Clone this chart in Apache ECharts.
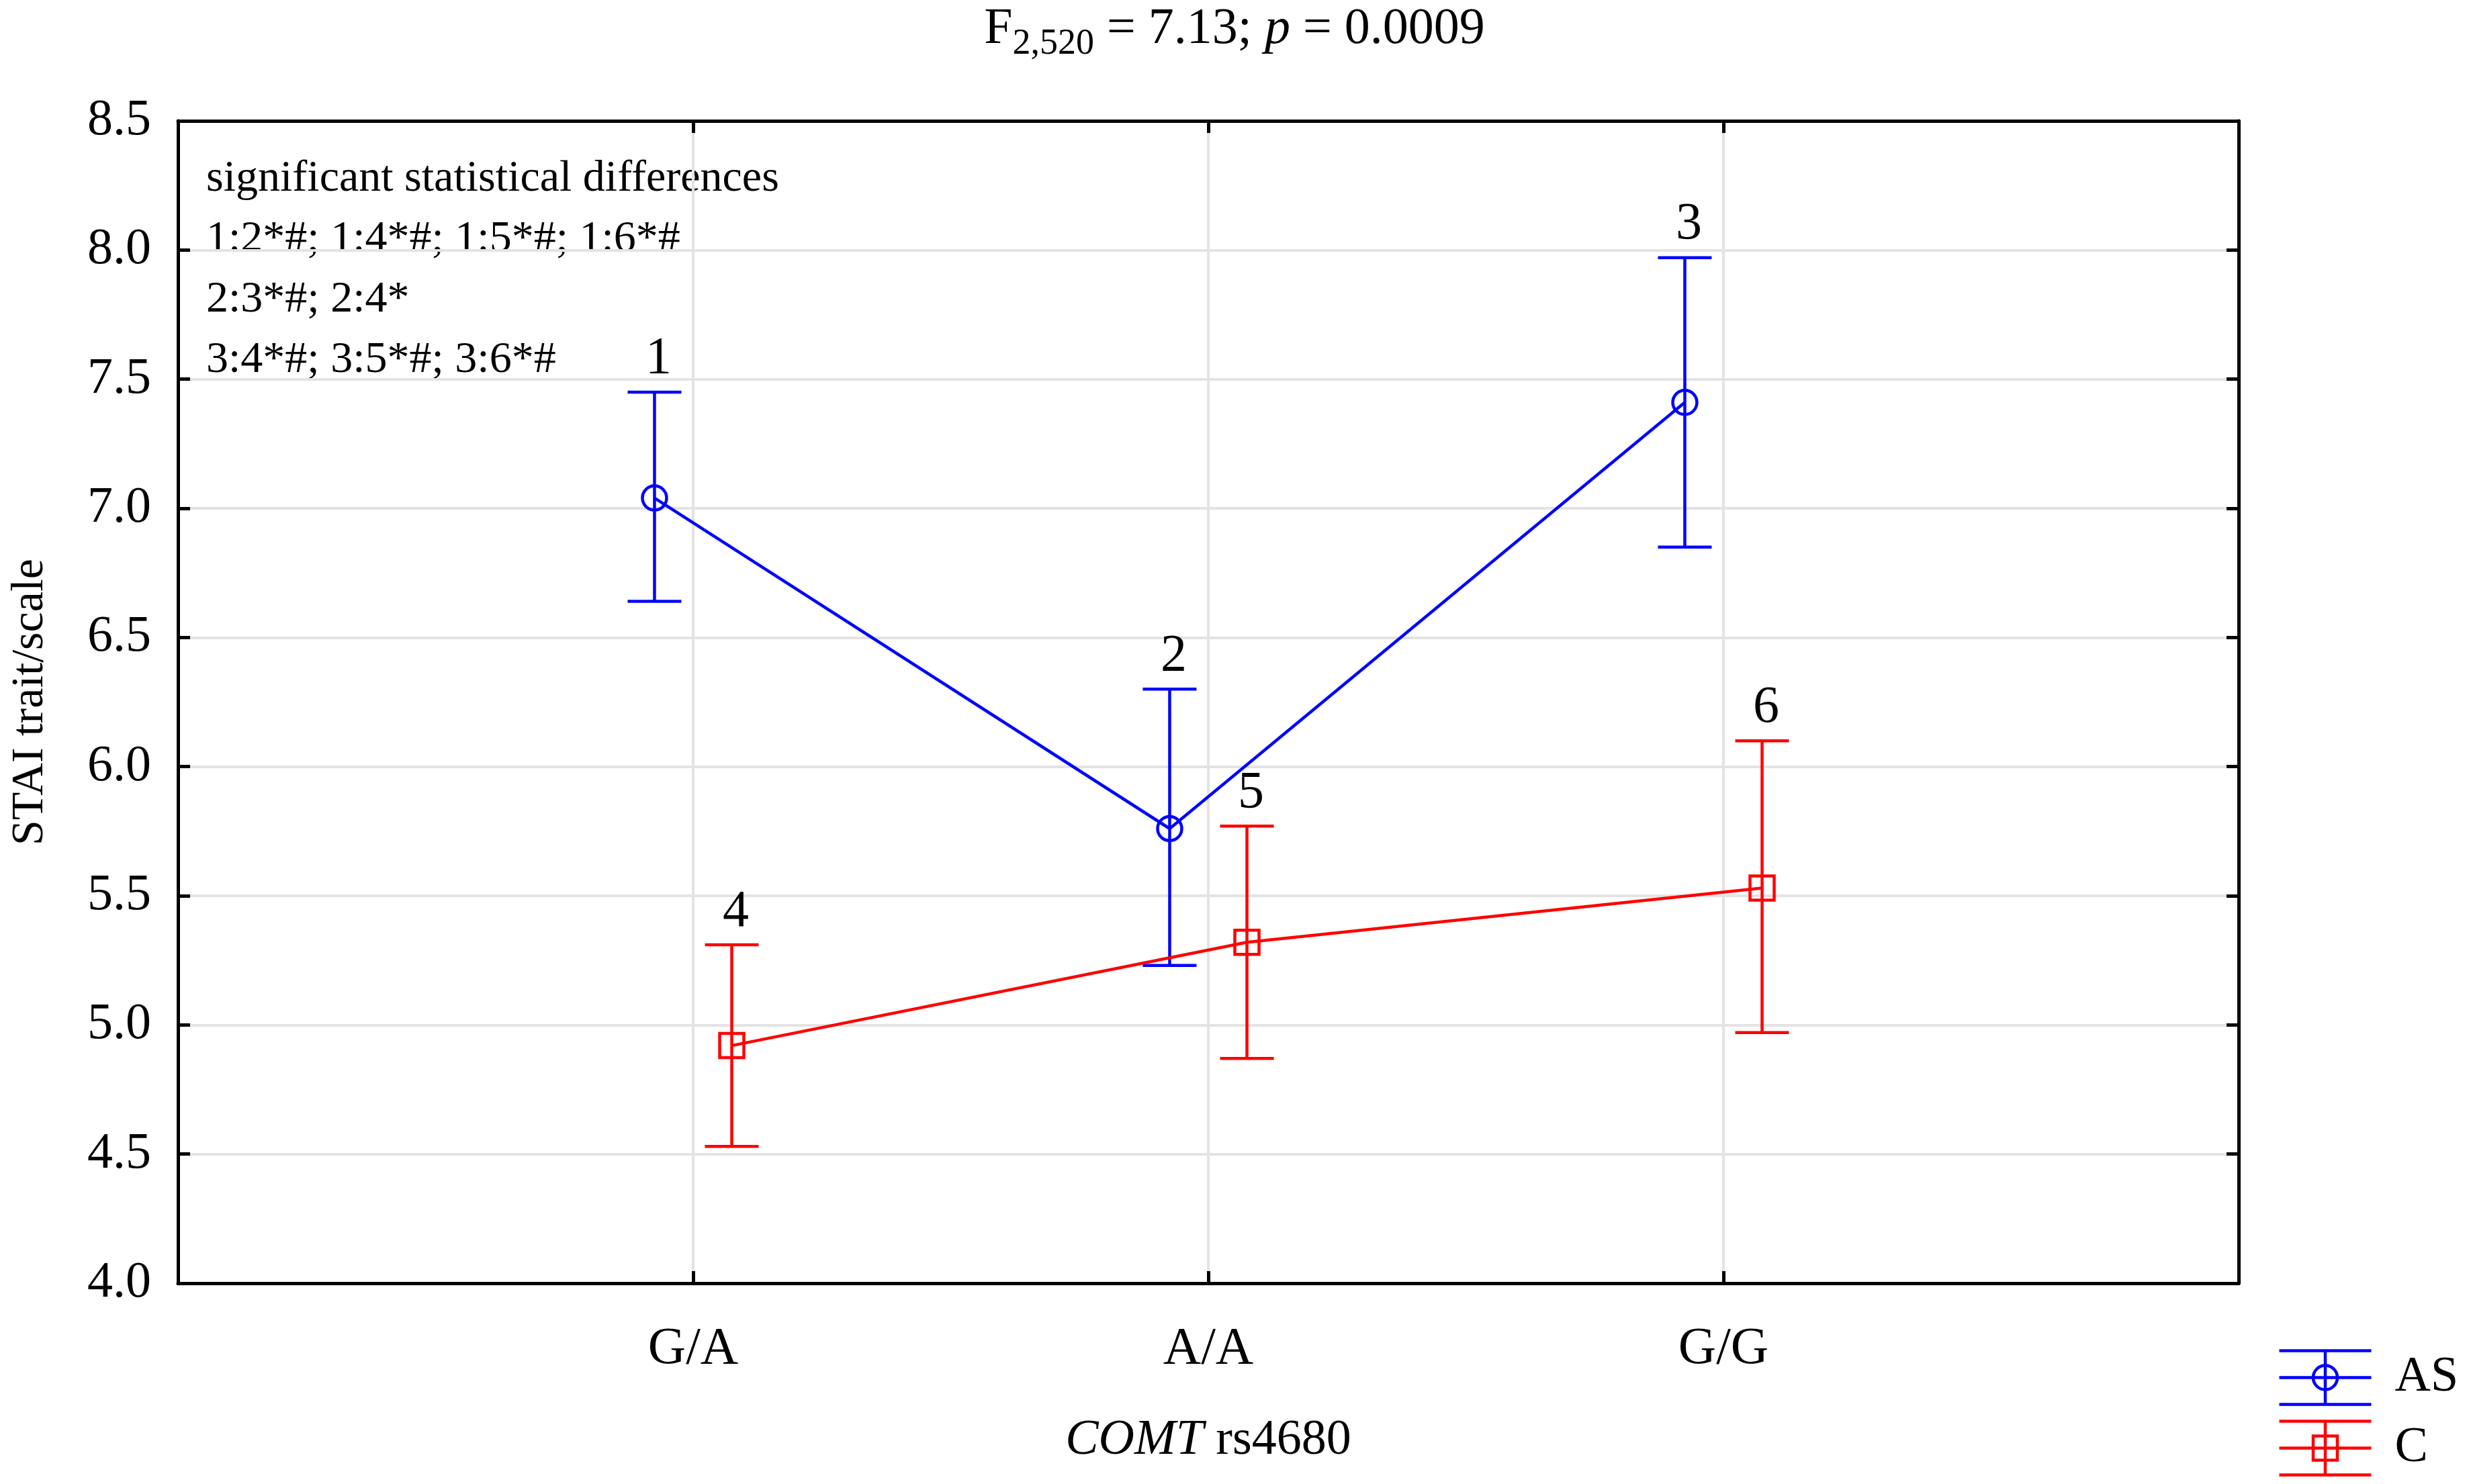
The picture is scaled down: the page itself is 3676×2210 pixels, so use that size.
<!DOCTYPE html>
<html lang="en">
<head>
    <meta charset="UTF-8">
    <title>STAI trait by COMT rs4680</title>
    <style>
        html, body { margin: 0; padding: 0; background: #fff; }
        #main { width: 3676px; height: 2210px; }
    </style>
</head>
<body>
<div id="main"></div>
<script src="https://cdn.jsdelivr.net/npm/echarts@6/dist/echarts.min.js"></script>
<script>
    // genotype categories on the x axis
    var genotypes = ['G/A', 'A/A', 'G/G'];
    // AS group: means and error bar limits
    var asMean = [7.04, 5.76, 7.41];
    var asLow = [6.64, 5.23, 6.85];
    var asHigh = [7.45, 6.30, 7.97];
    var asNums = ['1', '2', '3'];
    // C group
    var cMean = [4.92, 5.32, 5.53];
    var cLow = [4.53, 4.87, 4.97];
    var cHigh = [5.31, 5.77, 6.10];
    var cNums = ['4', '5', '6'];
    var yTicks = [4.0, 4.5, 5.0, 5.5, 6.0, 6.5, 7.0, 7.5, 8.0, 8.5];

    var FONT = 'Liberation Serif';
    var BLUE = '#0000ff';
    var RED = '#ff0000';
    var shift = 0.075;   // small horizontal dodge of the two groups

    function points(mean, dx) {
        return mean.map(function (v, i) { return [i + 1 + dx, v]; });
    }
    function bars(low, high, nums, dx) {
        return low.map(function (v, i) { return [i + 1 + dx, v, high[i], nums[i]]; });
    }

    function errorItem(color) {
        return function (params, api) {
            var x = api.value(0);
            var lo = api.coord([x, api.value(1)]);
            var hi = api.coord([x, api.value(2)]);
            var w = 40;
            var st = { stroke: color, lineWidth: 4.5 };
            return {
                type: 'group',
                children: [
                    { type: 'line', shape: { x1: lo[0], y1: lo[1], x2: hi[0], y2: hi[1] }, style: st },
                    { type: 'line', shape: { x1: hi[0] - w, y1: hi[1], x2: hi[0] + w, y2: hi[1] }, style: st },
                    { type: 'line', shape: { x1: lo[0] - w, y1: lo[1], x2: lo[0] + w, y2: lo[1] }, style: st },
                    {
                        type: 'text',
                        style: {
                            x: hi[0] + 6, y: hi[1] - 10,
                            text: api.value(3) + '',
                            fill: '#000',
                            font: '78px "' + FONT + '"',
                            align: 'center', verticalAlign: 'bottom'
                        }
                    }
                ]
            };
        };
    }

    var axisBase = {
        type: 'value',
        axisLine: { show: true, onZero: false, lineStyle: { color: '#000', width: 5 } },
        axisTick: { show: true, inside: true, length: 18, lineStyle: { color: '#000', width: 5 } }
    };

    var myChart = echarts.init(document.getElementById('main'));
    var option = {
        backgroundColor: '#fff',
        animation: false,
        textStyle: { fontFamily: FONT, color: '#000' },
        title: {
            text: '{t|F}{s|2,520}{t| = 7.13; }{i|p}{t| = 0.0009}',
            left: 'center',
            top: -10,
            textStyle: {
                fontWeight: 'normal',
                rich: {
                    t: { fontFamily: FONT, fontSize: 76, fontWeight: 'normal', color: '#000' },
                    i: { fontFamily: FONT, fontSize: 76, fontWeight: 'normal', fontStyle: 'italic', color: '#000' },
                    s: { fontFamily: FONT, fontSize: 54, fontWeight: 'normal', color: '#000', padding: [44, 0, 0, 0] }
                }
            }
        },
        graphic: [{
            type: 'text',
            left: 307,
            top: 222,
            style: {
                text: 'significant statistical differences\n1:2*#; 1:4*#; 1:5*#; 1:6*#\n2:3*#; 2:4*\n3:4*#; 3:5*#; 3:6*#',
                font: '66px "' + FONT + '"',
                lineHeight: 90,
                fill: '#000'
            }
        }],
        legend: {
            orient: 'vertical',
            left: 3386,
            top: 2004,
            itemWidth: 137,
            itemHeight: 80,
            itemGap: 20,
            textStyle: { fontFamily: FONT, fontSize: 74, color: '#000', padding: [0, 0, 0, 30] },
            data: [
                {
                    name: 'AS',
                    icon: 'path://M0 0H137M0 40H137M0 80H137M68.5 0V80M50.5 40A18 18 0 1 1 86.5 40A18 18 0 1 1 50.5 40Z',
                    itemStyle: { color: 'none', borderColor: BLUE, borderWidth: 4.5 }
                },
                {
                    name: 'C',
                    icon: 'path://M0 0H137M0 40H137M0 80H137M68.5 0V80M50.5 22H86.5V58H50.5Z',
                    itemStyle: { color: 'none', borderColor: RED, borderWidth: 4.5 }
                }
            ]
        },
        grid: { left: 265, right: 343, top: 180, bottom: 299, containLabel: false },
        xAxis: [
            Object.assign({}, axisBase, {
                min: 0, max: 4, interval: 1,
                name: '{i|COMT} rs4680',
                nameLocation: 'middle',
                nameGap: 198,
                nameTextStyle: {
                    fontFamily: FONT, fontSize: 74, color: '#000',
                    rich: { i: { fontFamily: FONT, fontSize: 74, fontStyle: 'italic', color: '#000' } }
                },
                axisLabel: {
                    margin: 60, fontFamily: FONT, fontSize: 78, color: '#000',
                    formatter: function (v) { return genotypes[v - 1] || ''; }
                },
                splitLine: { show: true, lineStyle: { color: '#e3e3e3', width: 4 } }
            }),
            Object.assign({}, axisBase, {
                position: 'top', min: 0, max: 4, interval: 1,
                axisLabel: { show: false }, splitLine: { show: false }
            })
        ],
        yAxis: [
            Object.assign({}, axisBase, {
                min: yTicks[0], max: yTicks[yTicks.length - 1], interval: 0.5,
                name: 'STAI trait/scale',
                nameLocation: 'middle',
                nameGap: 186,
                nameTextStyle: { fontFamily: FONT, fontSize: 68, color: '#000' },
                axisLabel: {
                    margin: 40, fontFamily: FONT, fontSize: 76, color: '#000',
                    formatter: function (v) { return v.toFixed(1); }
                },
                splitLine: { show: true, lineStyle: { color: '#e3e3e3', width: 4 } }
            }),
            Object.assign({}, axisBase, {
                position: 'right',
                min: yTicks[0], max: yTicks[yTicks.length - 1], interval: 0.5,
                axisLabel: { show: false }, splitLine: { show: false }
            })
        ],
        series: [
            {
                name: 'AS',
                type: 'custom',
                renderItem: errorItem(BLUE),
                data: bars(asLow, asHigh, asNums, -shift),
                z: 2
            },
            {
                name: 'C',
                type: 'custom',
                renderItem: errorItem(RED),
                data: bars(cLow, cHigh, cNums, shift),
                z: 2
            },
            {
                name: 'AS',
                type: 'line',
                data: points(asMean, -shift),
                symbol: 'circle',
                symbolSize: 36,
                lineStyle: { color: BLUE, width: 4.5 },
                itemStyle: { color: 'rgba(0,0,0,0)', borderColor: BLUE, borderWidth: 4.5 },
                z: 3
            },
            {
                name: 'C',
                type: 'line',
                data: points(cMean, shift),
                symbol: 'rect',
                symbolSize: 36,
                lineStyle: { color: RED, width: 4.5 },
                itemStyle: { color: 'rgba(0,0,0,0)', borderColor: RED, borderWidth: 4.5 },
                z: 3
            }
        ]
    };
    myChart.setOption(option);
</script>
</body>
</html>
